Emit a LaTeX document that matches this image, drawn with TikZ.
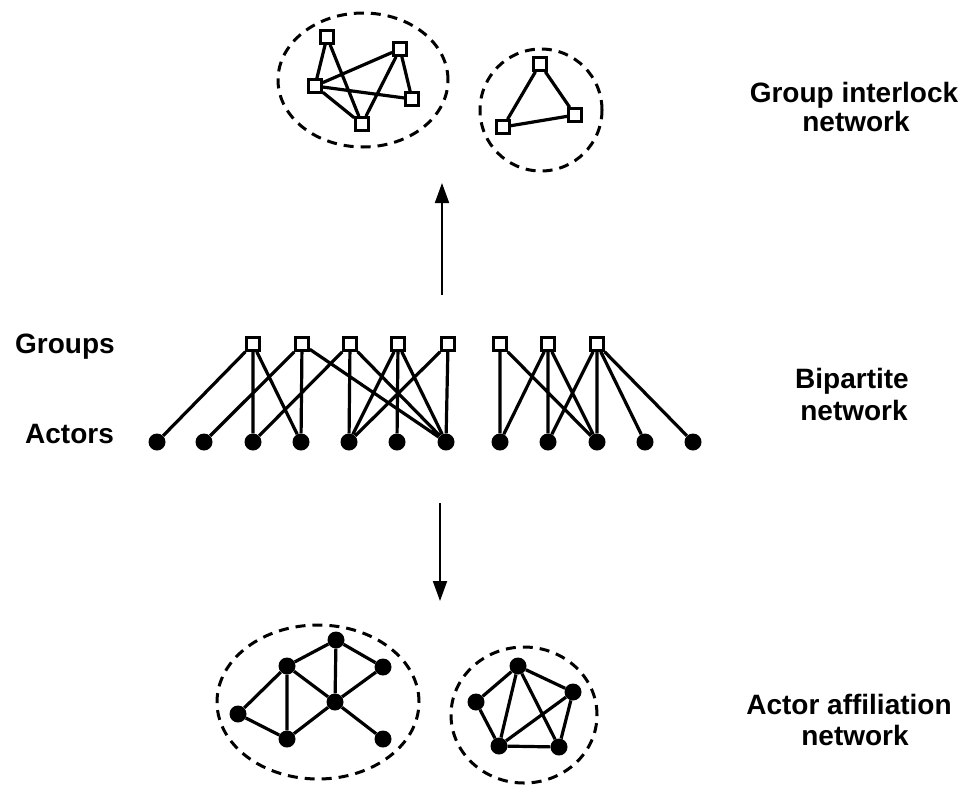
\documentclass[tikz,border=0pt]{standalone}
\usepackage{fontspec}
\setmainfont{Liberation Sans}
\usetikzlibrary{shapes.geometric,arrows.meta}
\begin{document}
\begin{tikzpicture}[x=1pt,y=-1pt,
  grp/.style={rectangle,draw,line width=2.6pt,fill=white,minimum size=13pt,inner sep=0pt},
  act/.style={circle,fill=black,minimum size=17pt,inner sep=0pt},
  edge/.style={line width=3.2pt},
  cluster/.style={ellipse,draw,line width=3pt,dash pattern=on 10pt off 7pt,inner sep=0pt},
  arr/.style={line width=1.9pt,-{Triangle[length=20pt,width=14pt]}},
  lbl/.style={font=\fontsize{28}{32}\selectfont\bfseries,inner sep=0pt}]
\useasboundingbox (0,0) rectangle (964,785);

% ---------- top: group interlock network ----------
\node[cluster,minimum width=170pt,minimum height=134pt] (c1) at (363,80) {};
\node[cluster,minimum width=122pt,minimum height=122pt] (c2) at (541,110) {};
\node[grp] (A) at (327,37) {};
\node[grp] (B) at (400,49) {};
\node[grp] (C) at (315,86) {};
\node[grp] (D) at (412,99) {};
\node[grp] (E) at (362,124) {};
\node[grp] (F) at (540,64) {};
\node[grp] (G) at (575,115) {};
\node[grp] (H) at (503,127) {};
\draw[edge] (A)--(C) (A)--(E) (C)--(B) (C)--(D) (C)--(E) (B)--(E) (B)--(D);
\draw[edge] (F)--(G) (F)--(H) (H)--(G);

% ---------- arrows ----------
\coordinate (u0) at (442,295);
\coordinate (u1) at (442,183);
\draw[arr] (u0)--(u1);
\coordinate (d0) at (440,503);
\coordinate (d1) at (440,601);
\draw[arr] (d0)--(d1);

% ---------- bipartite network ----------
\foreach \i/\x in {1/253,2/302,3/350,4/398,5/448,6/500,7/548,8/597}
  \node[grp] (g\i) at (\x,344) {};
\foreach \i/\x in {1/157,2/204,3/253,4/301,5/349,6/397,7/446,8/500,9/548,10/597,11/645,12/693}
  \node[act] (a\i) at (\x,442) {};
\draw[edge] (g1)--(a1) (g1)--(a3) (g1)--(a4)
            (g2)--(a2) (g2)--(a4) (g2)--(a7)
            (g3)--(a3) (g3)--(a5) (g3)--(a7)
            (g4)--(a5) (g4)--(a6) (g4)--(a7)
            (g5)--(a5) (g5)--(a7)
            (g6)--(a8) (g6)--(a10)
            (g7)--(a8) (g7)--(a9) (g7)--(a10)
            (g8)--(a9) (g8)--(a10) (g8)--(a11) (g8)--(a12);

% ---------- bottom: actor affiliation network ----------
\node[cluster,minimum width=202pt,minimum height=154pt] (c3) at (318,702) {};
\node[cluster,minimum width=146pt,minimum height=136pt] (c4) at (524,715) {};
\node[act] (p1) at (336,640) {};
\node[act] (p2) at (287,666) {};
\node[act] (p3) at (383,667) {};
\node[act] (p4) at (335,702) {};
\node[act] (p5) at (238,714) {};
\node[act] (p6) at (287,739) {};
\node[act] (p7) at (383,739) {};
\draw[edge] (p2)--(p1) (p1)--(p3) (p1)--(p4) (p2)--(p4) (p2)--(p6) (p2)--(p5)
            (p5)--(p6) (p6)--(p4) (p4)--(p3) (p4)--(p7);
\node[act] (q1) at (518,666) {};
\node[act] (q2) at (573,692) {};
\node[act] (q3) at (476,702) {};
\node[act] (q4) at (499,746) {};
\node[act] (q5) at (559,747) {};
\draw[edge] (q1)--(q3) (q1)--(q2) (q1)--(q4) (q1)--(q5) (q3)--(q4) (q4)--(q5)
            (q4)--(q2) (q2)--(q5);

% ---------- labels ----------
\node[lbl,anchor=base] (t1) at (854,102) {Group interlock};
\node[lbl,anchor=base] (t2) at (856,131) {network};
\node[lbl,anchor=base] (t3) at (852,388) {Bipartite};
\node[lbl,anchor=base] (t4) at (854,420) {network};
\node[lbl,anchor=base] (t5) at (849,714) {Actor affiliation};
\node[lbl,anchor=base] (t6) at (855,745) {network};
\node[lbl,anchor=base west] (t7) at (15,353) {Groups};
\node[lbl,anchor=base west] (t8) at (25,443) {Actors};
\end{tikzpicture}
\end{document}
